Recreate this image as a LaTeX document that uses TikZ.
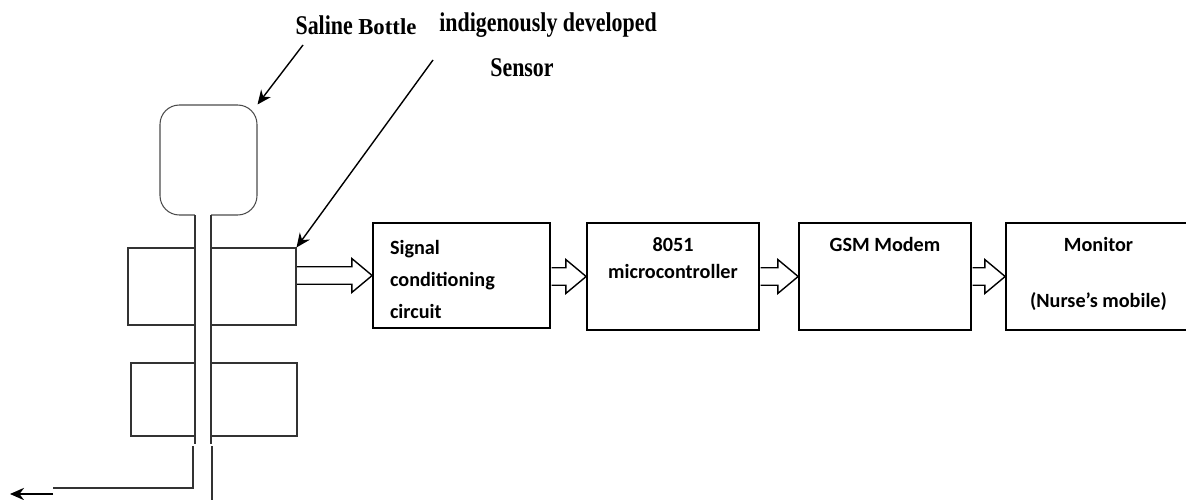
\documentclass[tikz,border=0pt]{standalone}
\usepackage{fontspec}
\setmainfont{Liberation Serif}
\newfontfamily\calibri{Carlito}
\usetikzlibrary{arrows.meta,calc}

% hollow block arrow from the east side of one box to the west side of the next
\newcommand{\hollowarrow}[2]{%
  \draw[line width=0.8pt,fill=white] let \p1=(#1), \p2=(#2) in
    (\x1+0.4pt,\y2+5pt) -- (\x2-11.5pt,\y2+5pt) -- (\x2-11.5pt,\y2+9.6pt) -- (\x2,\y2)
    -- (\x2-11.5pt,\y2-9.6pt) -- (\x2-11.5pt,\y2-5pt) -- (\x1+0.4pt,\y2-5pt);}

\begin{document}
\begin{tikzpicture}[x=0.02cm,y=-0.02cm,>={Stealth[length=8pt,width=7pt]}]
    \tikzstyle{block}=[draw, line width=1pt, inner sep=0.12cm, font=\calibri\bfseries\fontsize{11.5}{14}\selectfont]
    \tikzstyle{sensorbox}=[draw=black!80, line width=0.6pt, inner sep=0pt]
    \tikzstyle{callout}=[font=\bfseries\fontsize{15.4}{18}\selectfont, xscale=0.81, inner sep=0pt]
    \useasboundingbox (0,0) rectangle (1186,500);

    \node[draw=black!70, line width=0.6pt, rounded corners=11pt, minimum width=1.94cm, minimum height=2.2cm, inner sep=0pt] (bottle) at (208.5,160) {};
    \node[sensorbox, minimum width=3.36cm, minimum height=1.54cm] (sens) at (212,286.5) {};
    \node[sensorbox, minimum width=3.32cm, minimum height=1.46cm] (sens2) at (214,399.5) {};

    % tube
    \fill[white] (195,213) rectangle (211,444);
    \draw[black!80, line width=0.6pt] (195,215) -- (195,444) (211,215) -- (211,444);
    \draw[black!80, line width=0.6pt] (193,446) -- (193,488) -- (53,488);
    \draw[black!80, line width=0.6pt] (212,446) -- (212,500);
    \coordinate (drain) at (53,494);
    \coordinate (out) at (10,494);
    \draw[->, line width=1pt] (drain) -- (out);

    \node[block] (sig) at (461.5,275.5) {\parbox[t][1.86cm][t]{3.3cm}{\fontsize{11.5}{18}\selectfont\raggedright\leftskip=0.22cm
        \rule{0pt}{14.7pt}Signal\\conditioning\\circuit}};
    \node[block] (mcu) at (673,276.5) {\parbox[t][1.9cm][t]{3.2cm}{\fontsize{11.5}{15.3}\selectfont\centering
        \rule{0pt}{13pt}8051\\microcontroller}};
    \node[block] (gsm) at (885,276.5) {\parbox[t][1.9cm][t]{3.2cm}{\centering
        \rule{0pt}{13pt}GSM Modem}};
    \node[block] (mon) at (1098.5,276.5) {\parbox[t][1.9cm][t]{3.46cm}{\fontsize{11.5}{31.7}\selectfont\centering
        \rule{0pt}{13pt}Monitor\\(Nurse’s mobile)}};

    \hollowarrow{sens.east}{sig.west}
    \hollowarrow{sig.east}{mcu.west}
    \hollowarrow{mcu.east}{gsm.west}
    \hollowarrow{gsm.east}{mon.west}

    \node[callout] (saline) at (356,25) {Saline \scalebox{1.23}[1]{\fontsize{13}{15}\selectfont Bottle}};
    \node[callout] (devel) at (548,25) {indigenously developed};
    \node[callout] (sensor) at (522,68) {Sensor};
    \coordinate (salinetail) at (303,45);
    \coordinate (sensortail) at (433,60);
    \draw[->, line width=0.8pt] (salinetail) -- (bottle.north east);
    \draw[->, line width=0.8pt] (sensortail) -- (sens.north east);
\end{tikzpicture}
\end{document}
